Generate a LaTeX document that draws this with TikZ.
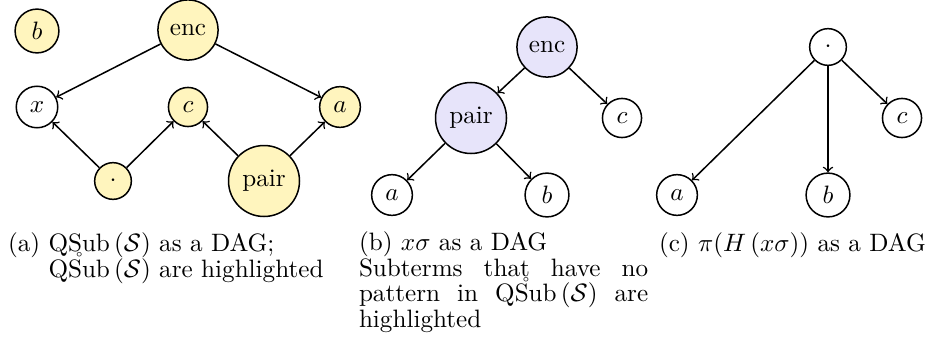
\documentclass[tikz,border=0pt]{standalone}
\usepackage{amsmath}
\definecolor{hlyellow}{RGB}{255,245,190}
\definecolor{hlpurple}{RGB}{231,228,250}
\newcommand{\mytightlines}{\fontsize{10}{10.1}\selectfont\lineskiplimit=-100pt\relax}
\begin{document}
\begin{tikzpicture}[x=0.3976pt,y=-0.3976pt,semithick,
  vtx/.style={circle,draw,inner sep=0.3333em},
  hly/.style={vtx,fill=hlyellow},
  hlp/.style={vtx,fill=hlpurple},
  edge/.style={->},
  captxt/.style={inner sep=0pt,outer sep=0pt,font=\mytightlines}]
\useasboundingbox (0,0) rectangle (925,347);
% (a)
\node[hly] (ab) at (37,31) {$b$};
\node[hly] (aenc) at (188,30) {enc};
\node[vtx] (ax) at (37,107) {$x$};
\node[hly] (ac) at (188,107) {$c$};
\node[hly] (aa) at (340,107) {$a$};
\node[hly] (adot) at (113,181) {$\cdot$};
\node[hly] (apair) at (264,181) {pair};
\draw[edge] (aenc) -- (ax);
\draw[edge] (aenc) -- (aa);
\draw[edge] (adot) -- (ax);
\draw[edge] (adot) -- (ac);
\draw[edge] (apair) -- (ac);
\draw[edge] (apair) -- (aa);
% (b)
\node[hlp] (benc) at (547,47) {enc};
\node[hlp] (bpair) at (471,118) {pair};
\node[vtx] (bc) at (622,118) {$c$};
\node[vtx] (ba) at (392,195) {$a$};
\node[vtx] (bb) at (547,195) {$b$};
\draw[edge] (benc) -- (bpair);
\draw[edge] (benc) -- (bc);
\draw[edge] (bpair) -- (ba);
\draw[edge] (bpair) -- (bb);
% (c)
\node[vtx] (cdot) at (828,47) {$\cdot$};
\node[vtx] (cc) at (902,118) {$c$};
\node[vtx] (ca) at (677,195) {$a$};
\node[vtx] (cb) at (828,195) {$b$};
\draw[edge] (cdot) -- (ca);
\draw[edge] (cdot) -- (cb);
\draw[edge] (cdot) -- (cc);
% captions
\node[captxt,anchor=north west,align=left] (capa) at (8,233) {(a) $\operatorname{QSub}\left(\mathcal{S}\right)$ as a DAG;\\\phantom{(a)}\ $\mathring{\operatorname{QSub}}\left(\mathcal{S}\right)$ are highlighted};
\node[captxt,anchor=north west,text width=115pt,align=justify] (capb) at (359,232) {(b) $x\sigma$ as a DAG\\Subterms that have no\linebreak pattern in $\mathring{\operatorname{QSub}}\left(\mathcal{S}\right)$ are\linebreak highlighted};
\node[captxt,anchor=base west] (capc) at (659,251) {(c) $\pi(H\left(x\sigma\right))$ as a DAG};
\end{tikzpicture}
\end{document}
